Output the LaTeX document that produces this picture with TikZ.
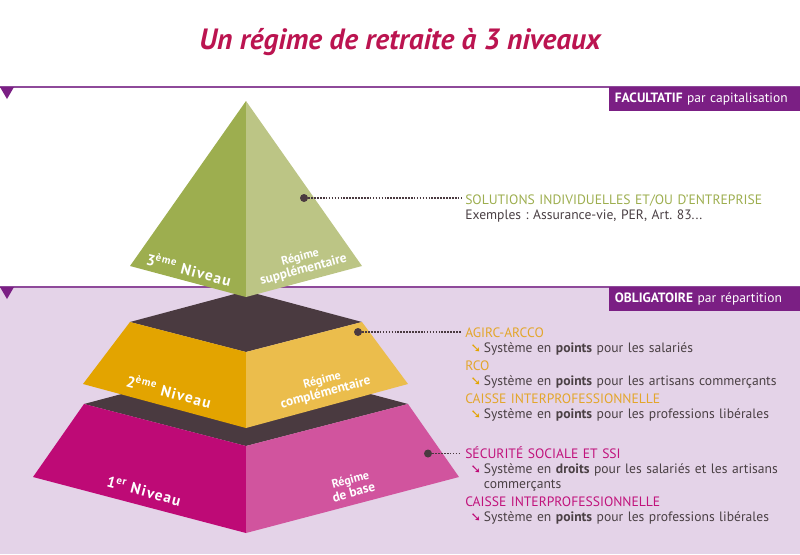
\documentclass[tikz,border=0pt]{standalone}
\usepackage{fontspec}
\setmainfont{PT Sans}
\newfontfamily\symbfont{DejaVu Sans}
\usetikzlibrary{positioning}
\definecolor{greenD}{HTML}{9DAE4F}
\definecolor{greenL}{HTML}{BCC585}
\definecolor{orangeD}{HTML}{E3A400}
\definecolor{orangeL}{HTML}{EBBD4C}
\definecolor{pinkD}{HTML}{BE0A76}
\definecolor{pinkL}{HTML}{D1549E}
\definecolor{topdark}{HTML}{4A3A40}
\definecolor{lavender}{HTML}{E4D3E8}
\definecolor{plum}{HTML}{7B1F84}
\definecolor{plumline}{HTML}{8E4A9A}
\definecolor{titlered}{HTML}{BB1450}
\definecolor{bodytext}{HTML}{4A4044}
\definecolor{orangeT}{HTML}{E3A62B}
\definecolor{pinkT}{HTML}{C1137C}
\tikzset{%
	banner/.style   = {fill=plum, text=white, anchor=north east, minimum width=143.25pt, minimum height=18pt, text width=134pt, align=left, inner xsep=4.6pt, inner ysep=0pt, font=\fontsize{10.1}{12}\selectfont},
	entry/.style    = {inner xsep=3pt, inner ysep=0pt, text width=250pt, align=left, text height=8pt, text depth=3pt, font=\fontsize{10.2}{12}\selectfont\frenchspacing, text=bodytext},
	level/.style    = {text=white, rotate=-15, inner sep=0pt, font=\fontsize{11.5}{12}\selectfont\bfseries\addfontfeature{LetterSpace=8}},
	regime/.style   = {text=white, rotate=15, inner sep=0pt, align=center, font=\fontsize{10}{9.8}\selectfont\bfseries},
	dot/.style      = {circle, fill=topdark, minimum size=6pt, inner sep=0pt},
	leader/.style   = {topdark, line width=1.2pt, dash pattern=on 1.2pt off 1pt},
	rule/.style     = {plumline, line width=1.1pt},
}
\newcommand{\sysline}[2]{\hspace*{4pt}\makebox[10pt][l]{\textcolor{#1}{\symbfont\bfseries\fontsize{9.5}{7}\selectfont ➘}}#2}

\begin{document}
\begin{tikzpicture}[x=0.75pt,y=-0.75pt,node distance=11.25pt]
	\useasboundingbox (0,0) rectangle (800,554);
	\fill[lavender] (0,287) rectangle (800,554);
	\draw[rule] (0,87) -- (800,87);
	\draw[rule] (0,287) -- (800,287);
	\fill[plum] (0,87) -- (14,87) -- (7,99) -- cycle;
	\fill[plum] (0,287) -- (14,287) -- (7,299) -- cycle;

	\node [anchor=center,text=titlered,inner sep=0pt,font=\fontsize{22}{26}\selectfont\itshape\bfseries] (title) at (400,42) {Un régime de retraite à 3 niveaux};

	% base level
	\fill[topdark] (84,404) -- (246,361) -- (408,404) -- (246,446) -- cycle;
	\fill[pinkD] (84,404) -- (246,446) -- (246,533) -- (33,477) -- cycle;
	\fill[pinkL] (408,404) -- (246,446) -- (246,533) -- (459,477) -- cycle;
	% middle level
	\fill[topdark] (130,322) -- (246,291) -- (362,322) -- (246,352) -- cycle;
	\fill[orangeD] (130,322) -- (246,352) -- (246,428) -- (83,384) -- cycle;
	\fill[orangeL] (362,322) -- (246,352) -- (246,428) -- (408,384) -- cycle;
	% top level
	\fill[greenD] (246,101) -- (246,297) -- (130,266) -- cycle;
	\fill[greenL] (246,101) -- (246,297) -- (362,266) -- cycle;

	\node [level] (niveau3) at (189,269) {3\textsuperscript{ème} Niveau};
	\node [level] (niveau2) at (169,391) {2\textsuperscript{ème} Niveau};
	\node [level] (niveau1) at (144,491) {1\textsuperscript{er} Niveau};
	\node [regime] (regime3) at (302,264) {\fontsize{9}{9.8}\selectfont Régime\\supplémentaire};
	\node [regime] (regime2) at (324,387) {\fontsize{9}{9.8}\selectfont Régime\\complémentaire};
	\node [regime] (regime1) at (352,486) {\fontsize{9}{9.8}\selectfont Régime\\de base};

	\node [banner] (facultatif) at (800,87) {\textbf{FACULTATIF} par capitalisation};
	\node [banner] (obligatoire) at (800,287) {\textbf{OBLIGATOIRE} par répartition};

	\node [dot] (dot3) at (304,198) {};
	\node [dot] (dot2) at (358,332) {};
	\node [dot] (dot1) at (428,453.5) {};

	\node [entry,anchor=west,text=greenD] (solutions) at (461,200.7) {SOLUTIONS INDIVIDUELLES ET/OU D’ENTREPRISE};
	\node [entry] (exemples) [below of=solutions] {Exemples : Assurance-vie, PER, Art. 83...};

	\node [entry,anchor=west,text=orangeT] (agirc) at (461,334) {AGIRC-ARCCO};
	\node [entry] (agircsys) [below of=agirc] {\sysline{orangeD}{Système en \textbf{points} pour les salariés}};
	\node [entry,text=orangeT] (rco) [below of=agircsys,node distance=13.5pt] {RCO};
	\node [entry] (rcosys) [below of=rco] {\sysline{orangeD}{Système en \textbf{points} pour les artisans commerçants}};
	\node [entry,text=orangeT] (caisseb) [below of=rcosys,node distance=13.5pt] {CAISSE INTERPROFESSIONNELLE};
	\node [entry] (caissebsys) [below of=caisseb] {\sysline{orangeD}{Système en \textbf{points} pour les professions libérales}};

	\node [entry,anchor=west,text=pinkT] (secu) at (461,454.7) {SÉCURITÉ SOCIALE ET SSI};
	\node [entry] (secusys) [below of=secu] {\sysline{pinkD}{Système en \textbf{droits} pour les salariés et les artisans}};
	\node [entry] (secusysb) [below of=secusys] {\hspace*{14pt}commerçants};
	\node [entry,text=pinkT] (caissea) [below of=secusysb,node distance=13.5pt] {CAISSE INTERPROFESSIONNELLE};
	\node [entry] (caisseasys) [below of=caissea] {\sysline{pinkD}{Système en \textbf{points} pour les professions libérales}};

	\draw[leader] (dot3) -- (dot3 -| solutions.west);
	\draw[leader] (dot2) -- (dot2 -| agirc.west);
	\draw[leader] (dot1) -- (dot1 -| secu.west);
\end{tikzpicture}
\end{document}
